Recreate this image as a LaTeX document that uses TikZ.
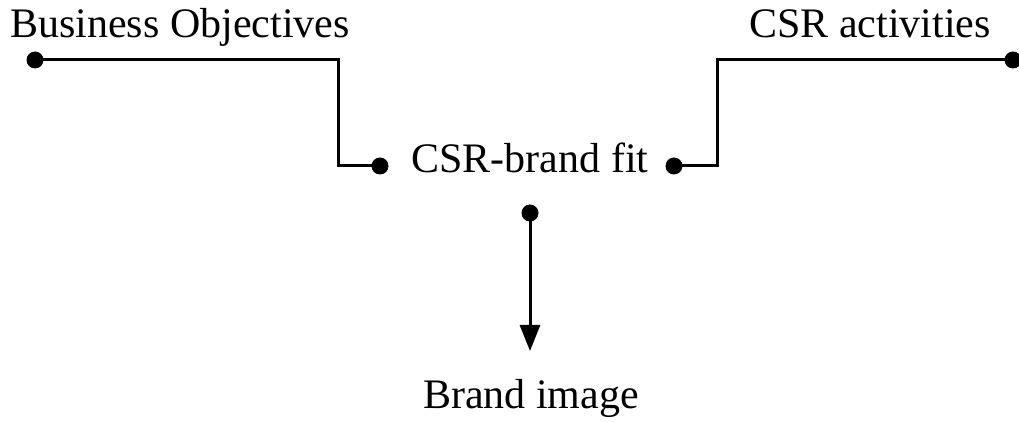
\documentclass[tikz,border=0pt]{standalone}
\usepackage{fontspec}
\setmainfont{Liberation Serif}
\usetikzlibrary{arrows.meta}

\tikzset{
  lbl/.style={anchor=base, inner sep=0pt, font=\fontsize{21}{25}\selectfont},
  pin/.style={circle, fill=black, inner sep=0pt, minimum size=8.5pt},
  wire/.style={line width=1.5pt}
}

\begin{document}
\begin{tikzpicture}[x=0.5pt, y=-0.5pt]
\useasboundingbox (0,0) rectangle (1019,422);

\node(objectives)	[lbl] at (180,38)	{Business Objectives};
\node(activities)	[lbl] at (870,38)	{CSR activities};
\node(fit)	[lbl] at (530,173)	{CSR-brand fit};
\node(image)	[lbl] at (531,409)	{Brand image};

\node(obj-pin)	[pin] at (35,60)	{};
\node(act-pin)	[pin] at (1013,60)	{};
\node(fit-w)	[pin] at (380,166)	{};
\node(fit-e)	[pin] at (674,166)	{};
\node(fit-s)	[pin] at (530,213)	{};

\coordinate(knee-l) at (338,60);
\coordinate(knee-r) at (717,60);
\coordinate(tip) at (530,351);

\draw [wire] (obj-pin.center) -- (knee-l) |- (fit-w.center);
\draw [wire] (act-pin.center) -- (knee-r) |- (fit-e.center);
\draw [wire, -{Triangle[width=10pt,length=13pt]}] (fit-s.center) -- (tip);

\end{tikzpicture}
\end{document}
